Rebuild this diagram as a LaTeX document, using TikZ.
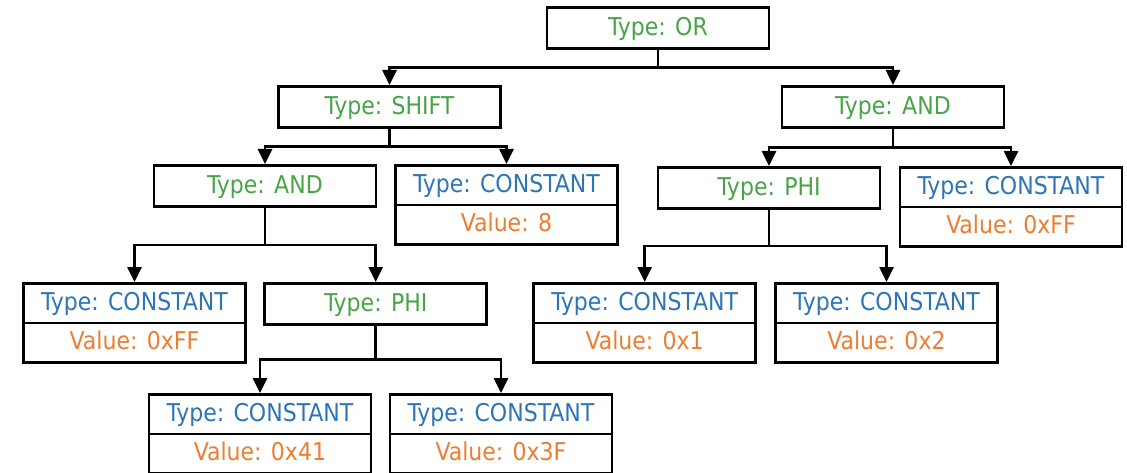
\documentclass[tikz,border=0pt]{standalone}
\usepackage{fontspec}
\setmainfont{DejaVu Sans Condensed}
\usetikzlibrary{arrows.meta,shapes.multipart,calc}
\definecolor{tgreen}{RGB}{72,164,72}
\definecolor{tblue}{RGB}{46,117,182}
\definecolor{torange}{RGB}{237,125,49}
\newcommand\rowstrut{\rule[-13pt]{0pt}{41pt}}
\newcommand\partstrut{\rule[-11.5pt]{0pt}{37pt}}
\tikzset{
  opbox/.style={draw, line width=2.6pt, rectangle, minimum width=222pt,
    inner xsep=0pt, inner ysep=0pt, anchor=north, text=tgreen,
    font=\fontsize{24.5}{28}\selectfont},
  constbox/.style={draw, line width=2.6pt, rectangle split, rectangle split parts=2,
    minimum width=222pt, inner xsep=0pt, inner ysep=0pt, anchor=north,
    font=\fontsize{24.5}{28}\selectfont},
  arr/.style={line width=2.6pt, -{Triangle[width=14pt,length=15pt]}},
}
\newcommand\cnode[4]{\node[constbox] (#1) at (#2) {\textcolor{tblue}{\partstrut Type: CONSTANT}\nodepart{two}\textcolor{torange}{\partstrut Value: #3}};}
\begin{document}
\begin{tikzpicture}[x=1pt,y=-1pt]
\useasboundingbox[fill=white] (0,0) rectangle (1127,473);
\node[opbox] (or) at (658,6) {\rowstrut Type: OR};
\node[opbox] (shift) at (389.5,85) {\rowstrut Type: SHIFT};
\node[opbox] (andR) at (893,85) {\rowstrut Type: AND};
\node[opbox] (andL) at (265,164) {\rowstrut Type: AND};
\cnode{c8}{506.5,164}{8}{}
\node[opbox] (phiR) at (769,166) {\rowstrut Type: PHI};
\cnode{cR}{1011,166}{0xFF}{}
\cnode{cL}{134.5,282}{0xFF}{}
\node[opbox] (phiL) at (375.7,282) {\rowstrut Type: PHI};
\cnode{c1}{644.7,282}{0x1}{}
\cnode{c2}{886.5,282}{0x2}{}
\cnode{c41}{260,393}{0x41}{}
\cnode{c3F}{501,393}{0x3F}{}
\foreach \p/\c in {or/shift, or/andR, shift/andL, shift/c8, andR/phiR, andR/cR,
                   andL/cL, andL/phiL, phiR/c1, phiR/c2, phiL/c41, phiL/c3F}
  \draw[arr] (\p.south) |- ($(\p.south)!.5!(\c.north)$) -| (\c.north);
\end{tikzpicture}
\end{document}
